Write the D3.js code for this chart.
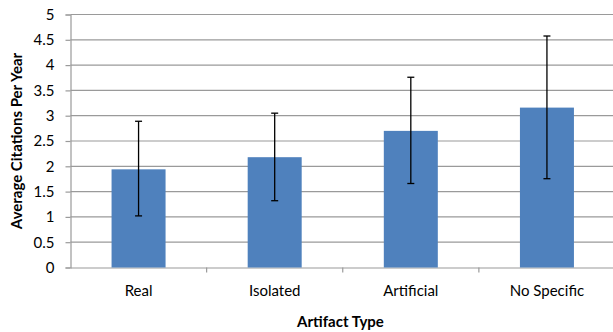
<!DOCTYPE html>
<html><head><meta charset="utf-8">
<script src="https://cdn.jsdelivr.net/npm/d3@7"></script>
<style>body{margin:0;background:#fff}svg{display:block}text{font-family:Lato,"Open Sans",sans-serif;fill:#000}</style>
</head><body><svg id="c" width="613" height="332"></svg>
<script>
const categories = ["Real", "Isolated", "Artificial", "No Specific"];
const means = [1.94, 2.18, 2.70, 3.16];
const errLow = [1.02, 1.32, 1.66, 1.755];
const errHigh = [2.89, 3.05, 3.76, 4.575];
const yTicks = [0, 0.5, 1, 1.5, 2, 2.5, 3, 3.5, 4, 4.5, 5];
const yTitle = "Average Citations Per Year";
const xTitle = "Artifact Type";

(function () {
const svg = d3.select("#c");
const pl = 70.5, pr = 615, pt = 14.5, pb = 267.5;
const x = d3.scaleBand().domain(categories).range([pl, pr]).paddingInner(0).paddingOuter(0);
const y = d3.scaleLinear().domain([0, 5]).range([pb, pt]);

// gridlines
svg.append("g").selectAll("line").data(yTicks.filter(d => d > 0)).join("line")
  .attr("x1", pl).attr("x2", pr)
  .attr("y1", d => y(d)).attr("y2", d => y(d))
  .attr("stroke", "#9a9a9a").attr("stroke-width", 1.2);

// y axis
const ya = svg.append("g").attr("transform", `translate(${pl},0)`)
  .call(d3.axisLeft(y).tickValues(yTicks).tickSize(5).tickPadding(11).tickFormat(d => String(d)));
ya.select(".domain").attr("stroke", "#9a9a9a").attr("stroke-width", 1.2);
ya.selectAll(".tick line").attr("stroke", "#9a9a9a").attr("stroke-width", 1.2);
ya.selectAll("text").attr("font-size", 15).attr("font-family", "Lato, sans-serif");

// x axis
const xa = svg.append("g").attr("transform", `translate(0,${pb})`)
  .call(d3.axisBottom(x).tickSize(0).tickPadding(18));
xa.select(".domain").attr("stroke", "#9a9a9a").attr("stroke-width", 1.2);
xa.selectAll("text").attr("font-size", 15).attr("font-family", "Lato, sans-serif");
svg.append("g").selectAll("line").data(categories.slice(1)).join("line")
  .attr("x1", d => x(d)).attr("x2", d => x(d))
  .attr("y1", pb).attr("y2", pb + 5)
  .attr("stroke", "#9a9a9a").attr("stroke-width", 1.2);

// bars
const bw = 54;
svg.append("g").selectAll("rect").data(categories).join("rect")
  .attr("x", d => x(d) + x.bandwidth() / 2 - bw / 2)
  .attr("width", bw)
  .attr("y", (d, i) => y(means[i]))
  .attr("height", (d, i) => y(0) - y(means[i]))
  .attr("fill", "#4f81bd");

// error bars
const eg = svg.append("g").attr("stroke", "#000").attr("stroke-width", 1.3);
categories.forEach((c, i) => {
  const cx = x(c) + x.bandwidth() / 2;
  eg.append("line").attr("x1", cx).attr("x2", cx).attr("y1", y(errLow[i])).attr("y2", y(errHigh[i]));
  eg.append("line").attr("x1", cx - 3.5).attr("x2", cx + 3.5).attr("y1", y(errLow[i])).attr("y2", y(errLow[i]));
  eg.append("line").attr("x1", cx - 3.5).attr("x2", cx + 3.5).attr("y1", y(errHigh[i])).attr("y2", y(errHigh[i]));
});

// titles
svg.append("text").attr("x", 340.5).attr("y", 327).attr("text-anchor", "middle")
  .attr("font-size", 15).attr("font-weight", "bold").text(xTitle);
svg.append("text").attr("transform", `translate(22,${(pt + pb) / 2}) rotate(-90)`)
  .attr("text-anchor", "middle").attr("font-size", 15).attr("font-weight", "bold").text(yTitle);
})();
</script></body></html>
